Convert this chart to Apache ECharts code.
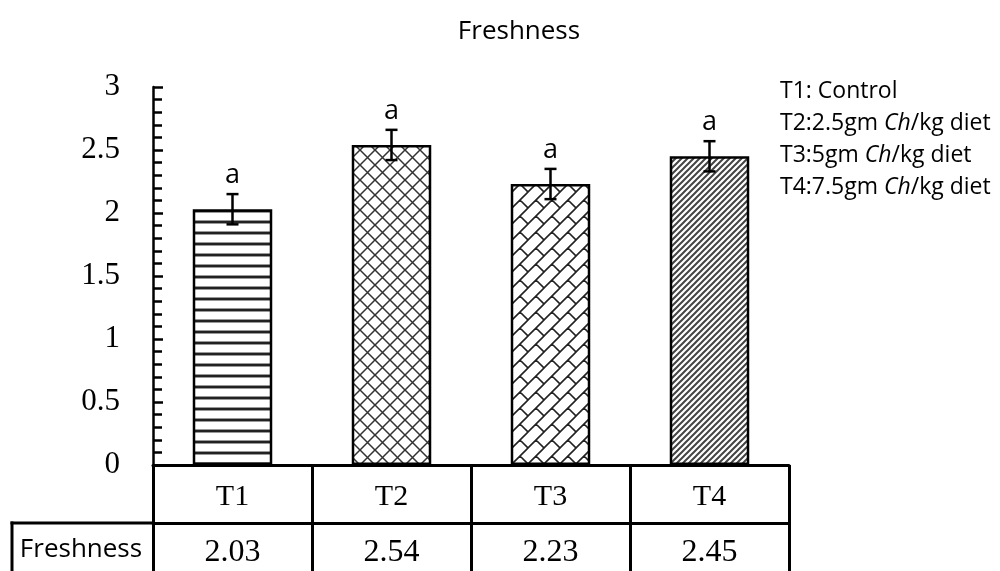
<!DOCTYPE html>
<html><head><meta charset="utf-8">
<script src="https://cdn.jsdelivr.net/npm/echarts@6/dist/echarts.min.js"></script>
<style>html,body{margin:0;padding:0;background:#fff}#c{width:1000px;height:571px}</style>
</head><body><div id="c"></div>
<script>
// ---- data ----
const titleText = 'Freshness';
const categories = ['T1', 'T2', 'T3', 'T4'];
const freshness = [2.03, 2.54, 2.23, 2.45];
const errors = [0.12, 0.12, 0.12, 0.12];
const letters = ['a', 'a', 'a', 'a'];
const rowLabel = 'Freshness';
const yMin = 0, yMax = 3, yStep = 0.5;
const legendLines = [
  ['T1: Control', '', ''],
  ['T2:2.5gm ', 'Ch', '/kg diet'],
  ['T3:5gm ', 'Ch', '/kg diet'],
  ['T4:7.5gm ', 'Ch', '/kg diet']
];

// ---- patterns ----
function mk(w, h, draw) {
  const c = document.createElement('canvas');
  c.width = w; c.height = h;
  const g = c.getContext('2d');
  g.fillStyle = '#fff'; g.fillRect(0, 0, w, h);
  draw(g, w, h);
  return { image: c, repeat: 'repeat' };
}
const patH = mk(4, 11, g => {
  g.fillStyle = '#999'; g.fillRect(0, 0, 4, 4);
  g.fillStyle = '#222'; g.fillRect(0, 1, 4, 2);
});
const patX = mk(15, 15, g => {
  g.strokeStyle = '#333'; g.lineWidth = 1.5; g.beginPath();
  for (const d of [-15, 0, 15]) {
    g.moveTo(d - 2, -2); g.lineTo(d + 17, 17);
    g.moveTo(d + 17, -2); g.lineTo(d - 2, 17);
  }
  g.stroke();
});
const patB = mk(16, 16, g => {
  g.strokeStyle = '#222'; g.lineWidth = 1.6; g.beginPath();
  for (const dx of [-16, 0, 16]) for (const dy of [-16, 0, 16]) {
    g.moveTo(dx - 2, dy + 18); g.lineTo(dx + 18, dy - 2);
    g.moveTo(dx + 8, dy + 8); g.lineTo(dx + 16, dy + 16);
  }
  g.stroke();
});
const patD = mk(6, 6, g => {
  g.strokeStyle = '#444'; g.lineWidth = 2; g.beginPath();
  for (const d of [-6, 0, 6]) { g.moveTo(d - 1, 7); g.lineTo(d + 7, -1); }
  g.stroke();
});
const patterns = [patH, patX, patB, patD];

const serif = '"Liberation Serif", "Times New Roman", serif';
const sans = '"Open Sans", "Noto Sans", sans-serif';

const chart = echarts.init(document.getElementById('c'), null, { renderer: 'canvas' });
chart.setOption({
  animation: false,
  backgroundColor: '#fff',
  title: {
    text: titleText, left: 514, top: 14, textAlign: 'center',
    textStyle: { fontFamily: sans, fontSize: 26, fontWeight: 'normal', color: '#000' }
  },
  grid: { left: 153, right: 211, top: 87, bottom: 106 },
  xAxis: [{
    type: 'category', data: categories, position: 'bottom',
    axisLine: { lineStyle: { color: '#000', width: 3 } },
    axisTick: { show: true, interval: 0, length: 58, lineStyle: { color: '#000', width: 3 } },
    axisLabel: { interval: 0, margin: 32, verticalAlign: 'middle', fontFamily: serif, fontSize: 30, color: '#000' },
    splitLine: { show: false }
  }, {
    type: 'category', data: categories, position: 'bottom', offset: 58,
    axisLine: { lineStyle: { color: '#000', width: 3 } },
    axisTick: { show: true, interval: 0, length: 60, lineStyle: { color: '#000', width: 3 } },
    axisLabel: { interval: 0, margin: 30, verticalAlign: 'middle', fontFamily: serif, fontSize: 32, color: '#000',
      formatter: (v, i) => freshness[i].toFixed(2) },
    splitLine: { show: false }
  }],
  yAxis: {
    type: 'value', min: yMin, max: yMax, interval: yStep,
    axisLine: { show: true, lineStyle: { color: '#000', width: 2.5 } },
    axisTick: { show: true, inside: true, length: 10, lineStyle: { color: '#000', width: 2.5 } },
    minorTick: { show: true, splitNumber: 5, length: 9, lineStyle: { color: '#000', width: 2.5 } },
    axisLabel: { margin: 33, fontFamily: serif, fontSize: 31, color: '#000', formatter: v => String(v) },
    splitLine: { show: false }
  },
  series: [{
    type: 'bar', barWidth: '50%', xAxisIndex: 0,
    data: freshness.map((v, i) => ({ value: v, itemStyle: { color: patterns[i] } })),
    itemStyle: { borderColor: '#000', borderWidth: 2.5 }
  }, {
    type: 'custom', xAxisIndex: 0, yAxisIndex: 0, z: 5,
    encode: { x: 0, y: 1 },
    data: freshness.map((v, i) => [i, v, errors[i]]),
    renderItem(params, api) {
      const i = api.value(0), v = api.value(1), e = api.value(2);
      const top = api.coord([i, v + e]), bot = api.coord([i, v - e]);
      const h = 6;
      const st = { stroke: '#000', lineWidth: 2.5 };
      return { type: 'group', children: [
        { type: 'line', shape: { x1: top[0], y1: top[1], x2: bot[0], y2: bot[1] }, style: st },
        { type: 'line', shape: { x1: top[0] - h, y1: top[1], x2: top[0] + h, y2: top[1] }, style: st },
        { type: 'line', shape: { x1: bot[0] - h, y1: bot[1], x2: bot[0] + h, y2: bot[1] }, style: st },
        { type: 'text', style: { text: letters[params.dataIndex], x: top[0], y: top[1] - 19,
          align: 'center', verticalAlign: 'middle', font: '27px ' + sans, fill: '#000' } }
      ]};
    }
  }],
  graphic: [
    { type: 'line', shape: { x1: 10.5, y1: 523, x2: 153, y2: 523 }, style: { stroke: '#000', lineWidth: 3 } },
    { type: 'line', shape: { x1: 12, y1: 521.5, x2: 12, y2: 580 }, style: { stroke: '#000', lineWidth: 3 } },
    { type: 'text', style: { text: rowLabel, x: 81, y: 550, align: 'center', verticalAlign: 'middle', font: '26px ' + sans, fill: '#000' } }
  ].concat(legendLines.map((l, i) => ({
    type: 'text',
    style: {
      x: 780, y: 91 + i * 32, verticalAlign: 'middle', align: 'left',
      text: '{n|' + l[0] + '}' + (l[1] ? '{it|' + l[1] + '}{n|' + l[2] + '}' : ''),
      rich: {
        n: { fontFamily: sans, fontSize: 23, fill: '#000' },
        it: { fontFamily: sans, fontSize: 23, fontStyle: 'italic', fill: '#000' }
      }
    }
  })))
});
</script></body></html>
